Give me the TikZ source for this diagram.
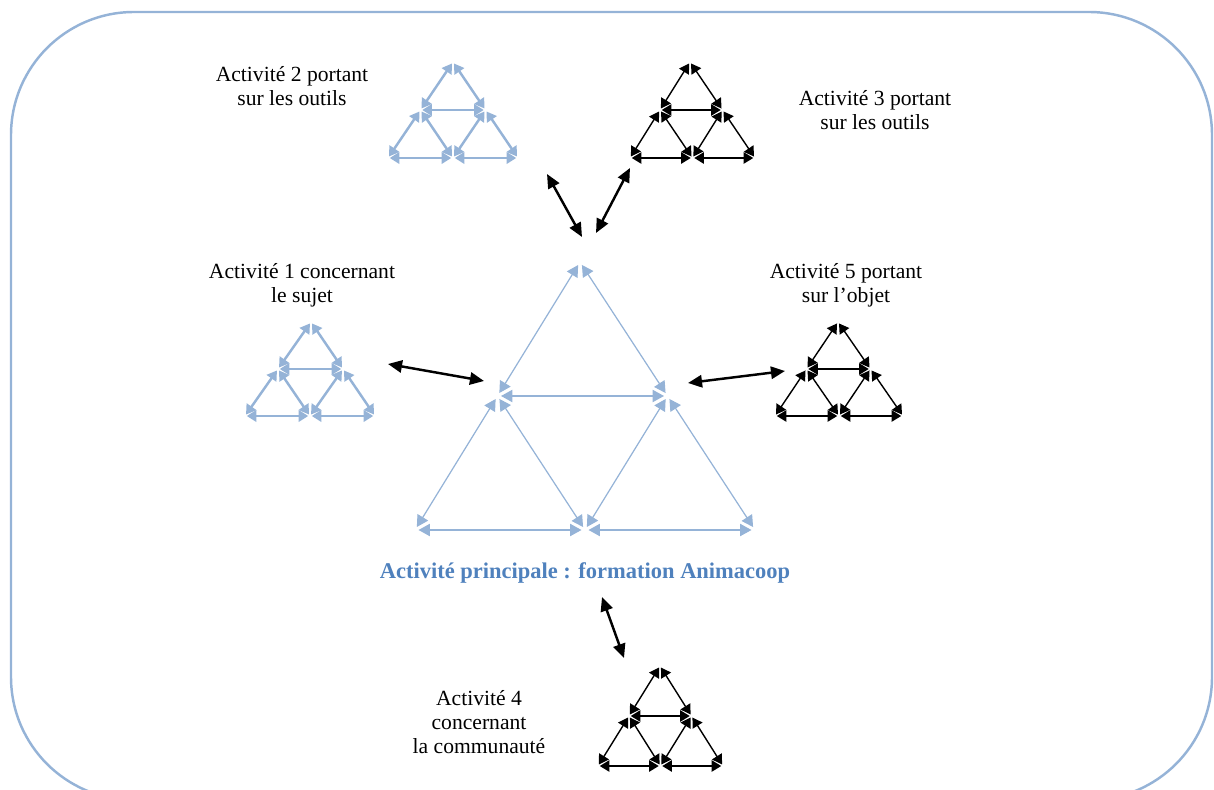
\documentclass[tikz,border=0pt]{standalone}
\usepackage{fontspec}
\setmainfont{Liberation Serif}
\usepackage{tikz}
\usetikzlibrary{arrows.meta,calc}

\definecolor{bleuclair}{RGB}{149,179,215}
\definecolor{bleutitre}{RGB}{79,129,189}

% one activity triangle: name, top, bottom left, bottom right, style
\newcommand{\activite}[5]{%
  \coordinate (#1-a) at #2;
  \coordinate (#1-b) at #3;
  \coordinate (#1-c) at #4;
  \coordinate (#1-ab) at ($(#1-a)!0.5!(#1-b)$);
  \coordinate (#1-ac) at ($(#1-a)!0.5!(#1-c)$);
  \coordinate (#1-bc) at ($(#1-b)!0.5!(#1-c)$);
  \foreach \u/\v in {a/ab, ab/b, b/bc, bc/c, c/ac, ac/a, ab/ac, ab/bc, ac/bc}
    \draw[#5] (#1-\u) -- (#1-\v);
}

\begin{document}
\begin{tikzpicture}[
x=0.02cm, y=-0.02cm,
label/.style={align=center, font=\fontsize{12.3}{13.6}\selectfont, inner sep=1pt},
grand/.style={bleuclair, line width=0.7pt, shorten <=2pt, shorten >=2pt,
  {Triangle[length=6.5pt, width=7pt]}-{Triangle[length=6.5pt, width=7pt]}},
petitbleu/.style={bleuclair, line width=1.4pt, shorten <=1pt, shorten >=1pt,
  {Triangle[length=5.5pt, width=6.5pt]}-{Triangle[length=5.5pt, width=6.5pt]}},
petitnoir/.style={black, line width=0.8pt, shorten <=1pt, shorten >=1pt,
  {Triangle[length=5.5pt, width=6.5pt]}-{Triangle[length=5.5pt, width=6.5pt]}},
lien/.style={black, line width=1.4pt,
  {Triangle[length=8pt, width=7pt]}-{Triangle[length=8pt, width=7pt]}}
]
\useasboundingbox (0,0) rectangle (1214,790);

% frame
\draw[bleuclair, line width=1.4pt, rounded corners=70pt] (11,12) rectangle (1212,800);

% main activity
\activite{main}{(580,262)}{(415,530)}{(755,530)}{grand}
\node[font=\fontsize{12.8}{15}\selectfont\bfseries, text=bleutitre] (titre) at (585,573) {Activité principale : formation Animacoop};

% surrounding activities
\activite{act1}{(311,322)}{(245,416)}{(375,416)}{petitbleu}
\activite{act2}{(453,62)}{(388,158)}{(518,158)}{petitbleu}
\activite{act3}{(690,62)}{(630,158)}{(755,158)}{petitnoir}
\activite{act4}{(660,666)}{(598,766)}{(723,766)}{petitnoir}
\activite{act5}{(838,322)}{(775,416)}{(903,416)}{petitnoir}

\node[label] (lab1) at (302,285) {Activité 1 concernant\\le sujet};
\node[label] (lab2) at (292,86) {Activité 2 portant\\sur les outils};
\node[label] (lab3) at (875,110) {Activité 3 portant\\sur les outils};
\node[label] (lab4) at (479,722) {Activité 4\\concernant\\la communauté};
\node[label] (lab5) at (846,285) {Activité 5 portant\\sur l’objet};

% links
\coordinate (l1s) at (388,364);  \coordinate (l1e) at (484,381);
\coordinate (l2s) at (547,174);  \coordinate (l2e) at (582,237);
\coordinate (l3s) at (630,168);  \coordinate (l3e) at (596,233);
\coordinate (l4s) at (602,597);  \coordinate (l4e) at (624,658);
\coordinate (l5s) at (688,383);  \coordinate (l5e) at (785,371);
\foreach \n in {1,...,5}
  \draw[lien] (l\n s) -- (l\n e);
\end{tikzpicture}
\end{document}
